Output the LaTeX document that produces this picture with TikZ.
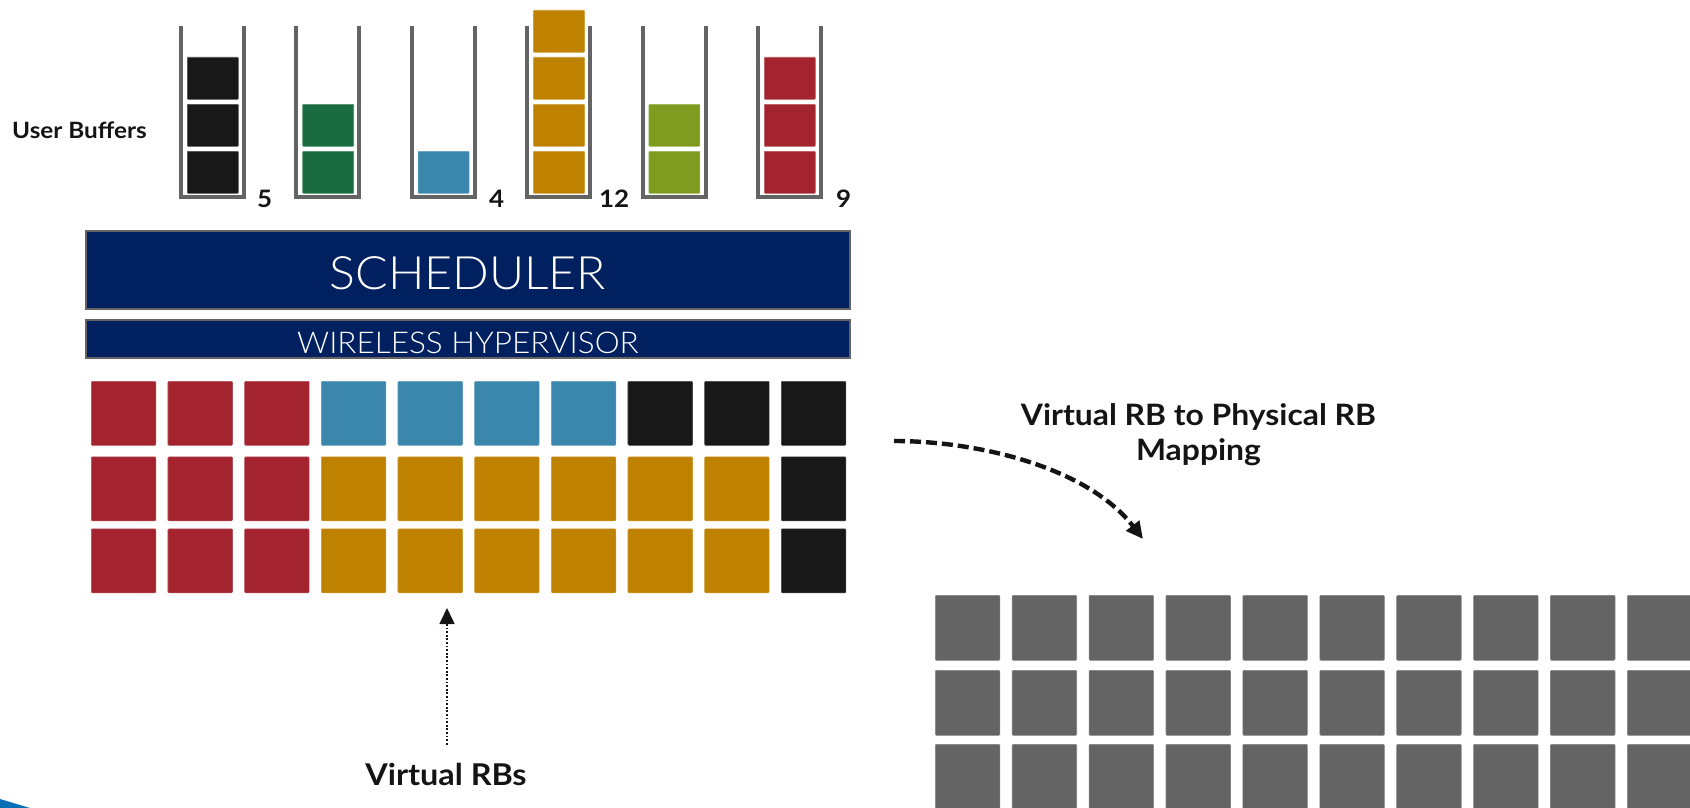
\documentclass[tikz,border=0pt]{standalone}
\usepackage{fontspec}
\setmainfont{Lato}[FakeStretch=1.08]
\newfontfamily\thinfont{Lato Light}[FakeStretch=1.05]
\usetikzlibrary{arrows.meta}

\definecolor{rbred}{HTML}{A3242F}
\definecolor{rbblue}{HTML}{3B86AC}
\definecolor{rbblack}{HTML}{181818}
\definecolor{rborange}{HTML}{BF8200}
\definecolor{rbgreen}{HTML}{1A6B40}
\definecolor{rbolive}{HTML}{7F9C20}
\definecolor{navy}{HTML}{002060}
\definecolor{wallgray}{HTML}{646464}
\definecolor{physgray}{HTML}{646464}
\definecolor{cornerblue}{HTML}{0B6FB8}
\definecolor{ink}{HTML}{141414}

\begin{document}
\begin{tikzpicture}[x=1pt,y=-1pt,
  rb/.style={rectangle, fill=#1, draw=#1!80!white, line width=0.6pt,
    minimum width=64.5pt, minimum height=64pt, inner sep=0pt,
    anchor=north west, rounded corners=1pt},
  pkt/.style={rectangle, fill=#1, draw=#1!75!white, line width=0.6pt,
    minimum width=51pt, minimum height=42pt, inner sep=0pt,
    anchor=north west, rounded corners=0.8pt},
  wall/.style={draw=wallgray, line width=4pt},
  numlab/.style={font=\bfseries\fontsize{24}{28}\selectfont, text=ink,
    anchor=base west, inner sep=0pt},
  bar/.style={rectangle, draw=wallgray, line width=2pt, fill=navy,
    text=white, inner sep=0pt, minimum width=764pt, text depth=0pt},
  caption/.style={font=\bfseries\fontsize{#1}{35}\selectfont, text=ink,
    inner sep=0pt},
  dotarrow/.style={draw=ink, line width=1.6pt, dash pattern=on 1.8pt off 1.8pt,
    -{Triangle[length=16pt,width=15pt]}},
  dasharrow/.style={draw=ink, line width=4.4pt, dash pattern=on 11pt off 5pt,
    -{Triangle[length=17pt,width=16pt]}}
]
\useasboundingbox (0,0) rectangle (1690,808);
\clip (0,0) rectangle (1690,808);

% slide corner decoration
\fill[cornerblue] (0,799) -- (30,808) -- (0,808) -- cycle;

% user buffers: walls and queued packets
\node[caption=22.5, anchor=base] (ub) at (79.5,138) {User Buffers};
\foreach \i/\n/\col in {0/3/rbblack, 1/2/rbgreen, 2/1/rbblue,
                        3/4/rborange, 4/2/rbolive, 5/3/rbred} {
  \pgfmathsetmacro{\bx}{181+115.4*\i}
  \draw[wall] (\bx,26) -- (\bx,197) -- ({\bx+63},197) -- ({\bx+63},26);
  \foreach \k in {1,...,\n} {
    \node[pkt=\col] (b\i-\k) at ({\bx+6},{151-47*(\k-1)}) {};
  }
}
\node[numlab] (q1) at (257,207) {5};
\node[numlab] (q3) at (489,207) {4};
\node[numlab] (q4) at (599,207) {12};
\node[numlab] (q6) at (836,207) {9};

% scheduler and hypervisor layers
\node[bar, minimum height=78pt, text height=39pt,
      font=\thinfont\fontsize{46}{50}\selectfont] (sched) at (468,270) {SCHEDULER};
\node[bar, minimum height=38pt, text height=28pt,
      font=\thinfont\fontsize{30}{34}\selectfont] (hyp) at (468,339) {WIRELESS HYPERVISOR};

% virtual resource blocks
\foreach \c/\col in {0/rbred,1/rbred,2/rbred,3/rbblue,4/rbblue,5/rbblue,
                     6/rbblue,7/rbblack,8/rbblack,9/rbblack}
  \node[rb=\col] (v-0-\c) at ({91+76.67*\c},381) {};
\foreach \r/\ry in {1/456.5, 2/528.5} {
  \foreach \c/\col in {0/rbred,1/rbred,2/rbred,3/rborange,4/rborange,5/rborange,
                       6/rborange,7/rborange,8/rborange,9/rbblack}
    \node[rb=\col] (v-\r-\c) at ({91+76.67*\c},\ry) {};
}

% physical resource blocks
\foreach \r/\ry in {0/595, 1/670, 2/744} {
  \foreach \c in {0,...,9}
    \node[rb=physgray, minimum height=65pt] (p-\r-\c) at ({935+76.9*\c},\ry) {};
}

% labels and arrows
\node[caption=30, anchor=base] (vrbs) at (446,785) {Virtual RBs};
\coordinate (vtip) at (447,608);
\draw[dotarrow, shorten <=18pt] (vrbs.north -| vtip) -- (vtip);

\node[caption=29.5, anchor=base, align=center] (maplab) at (1198.5,460)
  {Virtual RB to Physical RB\\Mapping};
\coordinate (mapfrom) at (894,441);
\coordinate (mapto) at (1143,539);
\draw[dasharrow] (mapfrom) .. controls (980,441) and (1088,468) .. (mapto);
\end{tikzpicture}
\end{document}
